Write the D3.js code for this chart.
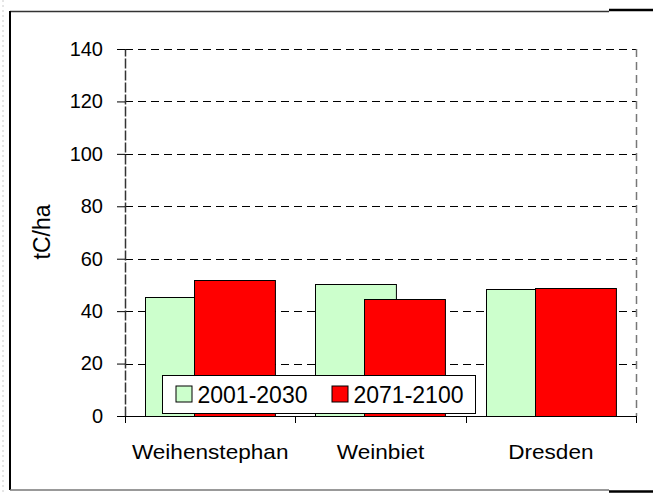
<!DOCTYPE html>
<html>
<head>
<meta charset="utf-8">
<script src="https://cdn.jsdelivr.net/npm/d3@7"></script>
<style>
  body { margin: 0; background: #fff; }
  text { font-family: "Liberation Sans", Arial, sans-serif; fill: #000; }
</style>
</head>
<body>
<script>
// data
var sites = ["Weihenstephan", "Weinbiet", "Dresden"];
var periods = ["2001-2030", "2071-2100"];
var early = [45.5, 50.2, 48.3];
var late = [51.8, 44.8, 48.9];
var yTicks = [0, 20, 40, 60, 80, 100, 120, 140];
var colors = ["#ccffcc", "#ff0000"];

var svgWidth = 653;
var svgHeight = 493;

var chartMargin = { top: 49, right: 17, bottom: 77, left: 125 };
var chartWidth = svgWidth - chartMargin.left - chartMargin.right;
var chartHeight = svgHeight - chartMargin.top - chartMargin.bottom;

var svg = d3.select("body")
    .append("svg")
    .attr("width", svgWidth)
    .attr("height", svgHeight);

// page guide + outer frame
svg.append("line")
    .attr("x1", 3).attr("x2", 3).attr("y1", 0).attr("y2", svgHeight)
    .attr("stroke", "#ccc").attr("stroke-dasharray", "2,3");
svg.append("line").attr("x1", 10).attr("x2", 609).attr("y1", 11.5).attr("y2", 11.5)
    .attr("stroke", "#333").attr("stroke-width", 1.5);
svg.append("line").attr("x1", 609).attr("x2", 653).attr("y1", 10).attr("y2", 10)
    .attr("stroke", "#000").attr("stroke-width", 2.5);
svg.append("line").attr("x1", 10).attr("x2", 10).attr("y1", 11).attr("y2", 490)
    .attr("stroke", "#000").attr("stroke-width", 2);
svg.append("line").attr("x1", 10).attr("x2", 609).attr("y1", 490).attr("y2", 490)
    .attr("stroke", "#777").attr("stroke-width", 1.5);
svg.append("line").attr("x1", 609).attr("x2", 653).attr("y1", 491.5).attr("y2", 491.5)
    .attr("stroke", "#000").attr("stroke-width", 2.5);

var chartGroup = svg.append("g")
    .attr("transform", `translate(${chartMargin.left}, ${chartMargin.top})`);

var xBandScale = d3.scaleBand()
    .domain(sites)
    .range([0, chartWidth]);

var yLinearScale = d3.scaleLinear()
    .domain([0, 140])
    .range([chartHeight, 0]);

// gridlines
chartGroup.selectAll(".grid")
    .data(yTicks.filter(d => d > 0))
    .enter()
    .append("line")
    .attr("x1", 0)
    .attr("x2", chartWidth)
    .attr("y1", d => Math.round(yLinearScale(d)) + 0.5)
    .attr("y2", d => Math.round(yLinearScale(d)) + 0.5)
    .attr("stroke", "#000")
    .attr("stroke-dasharray", "8,5");

// right border dashed
chartGroup.append("line")
    .attr("x1", chartWidth + 0.5).attr("x2", chartWidth + 0.5)
    .attr("y1", 0).attr("y2", chartHeight)
    .attr("stroke", "#777")
    .attr("stroke-width", 1.5)
    .attr("stroke-dasharray", "8,5");

// bars: two overlapping series
var bw = xBandScale.bandwidth();
var barWidth = bw * 0.475;
var offsets = [bw * 0.118, bw * 0.405];

[early, late].forEach(function (vals, i) {
    chartGroup.selectAll(".bar" + i)
        .data(vals)
        .enter()
        .append("rect")
        .attr("x", (d, j) => Math.round(xBandScale(sites[j]) + offsets[i]) + 0.5)
        .attr("y", d => Math.round(yLinearScale(d)) + 0.5)
        .attr("width", barWidth)
        .attr("height", d => chartHeight - Math.round(yLinearScale(d)))
        .attr("fill", colors[i])
        .attr("stroke", "#000")
        .attr("stroke-width", 1);
});

// left axis
var leftAxis = d3.axisLeft(yLinearScale).tickValues(yTicks).tickSizeInner(8).tickSizeOuter(0).tickPadding(14);
var yAxisG = chartGroup.append("g").call(leftAxis);
yAxisG.select(".domain").attr("stroke", "#333").attr("stroke-width", 1.5).attr("stroke-dasharray", "10,2");
yAxisG.selectAll(".tick line").attr("x2", -8).attr("x1", 0);
yAxisG.selectAll(".tick text").style("font-size", "20px");

// bottom axis
var bottomAxis = d3.axisBottom(xBandScale).tickSize(0).tickPadding(29);
var xAxisG = chartGroup.append("g")
    .attr("transform", `translate(0, ${chartHeight})`)
    .call(bottomAxis);
xAxisG.select(".domain").attr("stroke", "#000").attr("stroke-width", 1.2);
xAxisG.selectAll(".tick text")
    .style("font-size", "20px")
    .attr("transform", "scale(1.13,1)");
xAxisG.selectAll(".sep")
    .data(sites.concat(["end"]))
    .enter()
    .append("line")
    .attr("class", "sep")
    .attr("x1", (d, i) => i < sites.length ? Math.round(xBandScale(d)) + 0.5 : chartWidth + 0.5)
    .attr("x2", (d, i) => i < sites.length ? Math.round(xBandScale(d)) + 0.5 : chartWidth + 0.5)
    .attr("y1", 0).attr("y2", 7)
    .attr("stroke", "#000");

// y label
svg.append("text")
    .attr("transform", "translate(50, 232) rotate(-90)")
    .attr("text-anchor", "middle")
    .style("font-size", "23px")
    .text("tC/ha");

// legend
var legend = svg.append("g").attr("transform", "translate(162.5, 375.5)");
legend.append("rect")
    .attr("width", 313).attr("height", 38)
    .attr("fill", "#fff").attr("stroke", "#000");
var items = legend.selectAll(".item")
    .data(periods)
    .enter()
    .append("g")
    .attr("transform", (d, i) => `translate(${13 + i * 156}, 0)`);
items.append("rect")
    .attr("x", 0.5).attr("y", 10.5)
    .attr("width", 16).attr("height", 16)
    .attr("fill", (d, i) => colors[i])
    .attr("stroke", "#000");
items.append("text")
    .attr("x", 22).attr("y", 27)
    .style("font-size", "23px")
    .text(d => d);
</script>
</body>
</html>
